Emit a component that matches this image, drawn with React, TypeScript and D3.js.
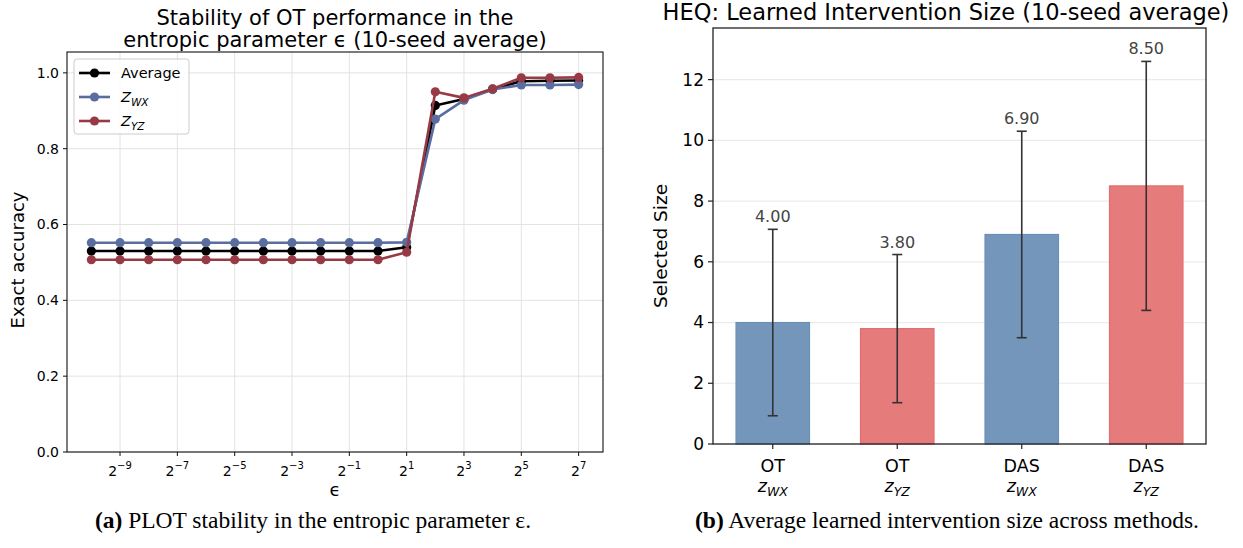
import React, { useEffect, useRef } from 'react';
import * as d3 from 'd3';

// --- left panel: accuracy vs entropic parameter (log2 of epsilon) ---
const epsExponents = [-10, -9, -8, -7, -6, -5, -4, -3, -2, -1, 0, 1, 2, 3, 4, 5, 6, 7];
const avgAccuracy = [0.530, 0.530, 0.530, 0.530, 0.530, 0.530, 0.530, 0.530, 0.530, 0.530, 0.530, 0.540, 0.914, 0.931, 0.957, 0.978, 0.979, 0.980];
const zwxAccuracy = [0.552, 0.552, 0.552, 0.552, 0.552, 0.552, 0.552, 0.552, 0.552, 0.552, 0.552, 0.553, 0.878, 0.928, 0.956, 0.968, 0.968, 0.969];
const zyzAccuracy = [0.507, 0.507, 0.507, 0.507, 0.507, 0.507, 0.507, 0.507, 0.507, 0.507, 0.507, 0.527, 0.950, 0.934, 0.958, 0.987, 0.987, 0.988];
const epsTickExponents = [-9, -7, -5, -3, -1, 1, 3, 5, 7];
const accTicks = [0, 0.2, 0.4, 0.6, 0.8, 1.0];

// --- right panel: learned intervention size ---
const methodNames = ['OT', 'OT', 'DAS', 'DAS'];
const reprNames = ['WX', 'YZ', 'WX', 'YZ'];
const meanSizes = [4.0, 3.8, 6.9, 8.5];
const stdSizes = [3.07, 2.44, 3.4, 4.1];
const sizeTicks = [0, 2, 4, 6, 8, 10, 12];

const FONT = 'DejaVu Sans';
const BLUE = '#5b6c9e';
const RED = '#983a45';
const BAR_BLUE = '#7496bb';
const BAR_RED = '#e57b7b';

const App: React.FC = () => {
	const ref = useRef<SVGSVGElement>(null);

	useEffect(() => {
		if (!ref.current) return;
		const svg = d3.select(ref.current);
		svg.selectAll('*').remove();

		svg.append('rect').attr('width', 1243).attr('height', 548).attr('fill', 'white');

		// ================= LEFT PANEL =================
		const L = { left: 67, right: 603, top: 52, bottom: 452 };
		const x = d3
			.scaleLog()
			.base(2)
			.domain([2 ** -10.85, 2 ** 7.85])
			.range([L.left, L.right]);
		const y = d3.scaleLinear().domain([0, 1.055]).range([L.bottom, L.top]);

		const left = svg.append('g').attr('font-family', FONT);

		// grid
		left
			.selectAll('.vgrid')
			.data(epsTickExponents)
			.enter()
			.append('line')
			.attr('x1', (d) => x(2 ** d))
			.attr('x2', (d) => x(2 ** d))
			.attr('y1', L.top)
			.attr('y2', L.bottom)
			.attr('stroke', '#e3e3e3')
			.attr('stroke-width', 1);
		left
			.selectAll('.hgrid')
			.data(accTicks)
			.enter()
			.append('line')
			.attr('x1', L.left)
			.attr('x2', L.right)
			.attr('y1', (d) => y(d))
			.attr('y2', (d) => y(d))
			.attr('stroke', '#e3e3e3')
			.attr('stroke-width', 1);

		// series
		const series = [
			{ name: 'Average', values: avgAccuracy, color: '#000000' },
			{ name: 'WX', values: zwxAccuracy, color: BLUE },
			{ name: 'YZ', values: zyzAccuracy, color: RED },
		];
		const line = d3
			.line<number>()
			.x((_, i) => x(2 ** epsExponents[i]))
			.y((d) => y(d));

		series.forEach((s) => {
			left
				.append('path')
				.attr('d', line(s.values) as string)
				.attr('fill', 'none')
				.attr('stroke', s.color)
				.attr('stroke-width', 2.6)
				.attr('stroke-linejoin', 'round');
			left
				.selectAll(null)
				.data(s.values)
				.enter()
				.append('circle')
				.attr('cx', (_, i) => x(2 ** epsExponents[i]))
				.attr('cy', (d) => y(d))
				.attr('r', 4.6)
				.attr('fill', s.color);
		});

		// frame
		left
			.append('rect')
			.attr('x', L.left)
			.attr('y', L.top)
			.attr('width', L.right - L.left)
			.attr('height', L.bottom - L.top)
			.attr('fill', 'none')
			.attr('stroke', '#111')
			.attr('stroke-width', 1.1);

		// y ticks
		accTicks.forEach((t) => {
			left
				.append('line')
				.attr('x1', L.left - 4)
				.attr('x2', L.left)
				.attr('y1', y(t))
				.attr('y2', y(t))
				.attr('stroke', '#111');
			left
				.append('text')
				.attr('x', L.left - 8)
				.attr('y', y(t))
				.attr('dy', '0.35em')
				.attr('text-anchor', 'end')
				.attr('font-size', 14)
				.text(t.toFixed(1));
		});

		// x ticks (2^k)
		epsTickExponents.forEach((k) => {
			const px = x(2 ** k);
			left
				.append('line')
				.attr('x1', px)
				.attr('x2', px)
				.attr('y1', L.bottom)
				.attr('y2', L.bottom + 4)
				.attr('stroke', '#111');
			const t = left
				.append('text')
				.attr('x', px)
				.attr('y', L.bottom + 24)
				.attr('text-anchor', 'middle')
				.attr('font-size', 14);
			t.append('tspan').text('2');
			t.append('tspan')
				.attr('font-size', 10)
				.attr('dy', -7)
				.text(k < 0 ? `\u2212${-k}` : `${k}`);
		});

		// axis labels
		left
			.append('text')
			.attr('x', (L.left + L.right) / 2)
			.attr('y', 496)
			.attr('text-anchor', 'middle')
			.attr('font-size', 18)
			.text('\u03f5');
		left
			.append('text')
			.attr('transform', `translate(24, ${(L.top + L.bottom) / 2 + 8}) rotate(-90)`)
			.attr('text-anchor', 'middle')
			.attr('font-size', 18)
			.text('Exact accuracy');

		// title
		left
			.append('text')
			.attr('x', (L.left + L.right) / 2)
			.attr('y', 25)
			.attr('text-anchor', 'middle')
			.attr('font-size', 21)
			.text('Stability of OT performance in the');
		left
			.append('text')
			.attr('x', (L.left + L.right) / 2)
			.attr('y', 47)
			.attr('text-anchor', 'middle')
			.attr('font-size', 21)
			.text('entropic parameter \u03f5 (10-seed average)');

		// legend
		const lg = left.append('g');
		lg.append('rect')
			.attr('x', 74)
			.attr('y', 59)
			.attr('width', 115)
			.attr('height', 75)
			.attr('rx', 3)
			.attr('fill', 'white')
			.attr('fill-opacity', 0.85)
			.attr('stroke', '#cccccc');
		series.forEach((s, i) => {
			const ry = 73 + i * 24;
			lg.append('line')
				.attr('x1', 79)
				.attr('x2', 110)
				.attr('y1', ry)
				.attr('y2', ry)
				.attr('stroke', s.color)
				.attr('stroke-width', 2.6);
			lg.append('circle').attr('cx', 94.5).attr('cy', ry).attr('r', 4.6).attr('fill', s.color);
			const t = lg
				.append('text')
				.attr('x', 121)
				.attr('y', ry + 5)
				.attr('font-size', 14.5);
			if (i === 0) {
				t.text(s.name);
			} else {
				t.append('tspan').attr('font-style', 'italic').text('Z');
				t.append('tspan')
					.attr('font-style', 'italic')
					.attr('font-size', 10.5)
					.attr('dy', 4)
					.text(s.name);
			}
		});

		// ================= RIGHT PANEL =================
		const R = { left: 713, right: 1206, top: 28, bottom: 444 };
		const xb = d3.scaleLinear().domain([-0.48, 3.48]).range([R.left, R.right]);
		const yb = d3.scaleLinear().domain([0, 13.7]).range([R.bottom, R.top]);
		const barW = xb(0.59) - xb(0);

		const right = svg.append('g').attr('font-family', FONT);

		right
			.selectAll('.grid')
			.data(sizeTicks)
			.enter()
			.append('line')
			.attr('x1', R.left)
			.attr('x2', R.right)
			.attr('y1', (d) => yb(d))
			.attr('y2', (d) => yb(d))
			.attr('stroke', '#ebebeb')
			.attr('stroke-width', 1.2);

		meanSizes.forEach((m, i) => {
			const cx = xb(i);
			const isWX = reprNames[i] === 'WX';
			right
				.append('rect')
				.attr('x', cx - barW / 2)
				.attr('y', yb(m))
				.attr('width', barW)
				.attr('height', yb(0) - yb(m))
				.attr('fill', isWX ? BAR_BLUE : BAR_RED)
				.attr('stroke', isWX ? '#6a8fb8' : '#e46c6c')
				.attr('stroke-width', 1.2);

			const hi = m + stdSizes[i];
			const lo = m - stdSizes[i];
			const eb = right.append('g').attr('stroke', '#333').attr('stroke-width', 1.6);
			eb.append('line').attr('x1', cx).attr('x2', cx).attr('y1', yb(hi)).attr('y2', yb(lo));
			eb.append('line').attr('x1', cx - 5).attr('x2', cx + 5).attr('y1', yb(hi)).attr('y2', yb(hi));
			eb.append('line').attr('x1', cx - 5).attr('x2', cx + 5).attr('y1', yb(lo)).attr('y2', yb(lo));

			right
				.append('text')
				.attr('x', cx)
				.attr('y', yb(hi) - 7)
				.attr('text-anchor', 'middle')
				.attr('font-size', 16)
				.attr('fill', '#444')
				.text(m.toFixed(2));

			// x tick + two-line label
			right
				.append('line')
				.attr('x1', cx)
				.attr('x2', cx)
				.attr('y1', R.bottom)
				.attr('y2', R.bottom + 5)
				.attr('stroke', '#222')
				.attr('stroke-width', 1.2);
			right
				.append('text')
				.attr('x', cx)
				.attr('y', R.bottom + 28)
				.attr('text-anchor', 'middle')
				.attr('font-size', 17.5)
				.text(methodNames[i]);
			const zt = right
				.append('text')
				.attr('x', cx)
				.attr('y', R.bottom + 48)
				.attr('text-anchor', 'middle')
				.attr('font-size', 17.5);
			zt.append('tspan').attr('font-style', 'italic').text('z');
			zt.append('tspan')
				.attr('font-style', 'italic')
				.attr('font-size', 12.5)
				.attr('dy', 4)
				.text(reprNames[i]);
		});

		// frame
		right
			.append('rect')
			.attr('x', R.left)
			.attr('y', R.top)
			.attr('width', R.right - R.left)
			.attr('height', R.bottom - R.top)
			.attr('fill', 'none')
			.attr('stroke', '#222')
			.attr('stroke-width', 1.3);

		sizeTicks.forEach((t) => {
			right
				.append('line')
				.attr('x1', R.left - 5)
				.attr('x2', R.left)
				.attr('y1', yb(t))
				.attr('y2', yb(t))
				.attr('stroke', '#222')
				.attr('stroke-width', 1.2);
			right
				.append('text')
				.attr('x', R.left - 9)
				.attr('y', yb(t))
				.attr('dy', '0.35em')
				.attr('text-anchor', 'end')
				.attr('font-size', 17)
				.text(t);
		});

		right
			.append('text')
			.attr('transform', `translate(667, ${(R.top + R.bottom) / 2 + 10}) rotate(-90)`)
			.attr('text-anchor', 'middle')
			.attr('font-size', 18.5)
			.text('Selected Size');

		right
			.append('text')
			.attr('x', 946)
			.attr('y', 20)
			.attr('text-anchor', 'middle')
			.attr('font-size', 22.5)
			.text('HEQ: Learned Intervention Size (10-seed average)');

		// ================= CAPTIONS =================
		const captions = [
			{ cx: 313, label: '(a)', text: ' PLOT stability in the entropic parameter \u03b5.' },
			{ cx: 947, label: '(b)', text: ' Average learned intervention size across methods.' },
		];
		captions.forEach((c) => {
			const t = svg
				.append('text')
				.attr('x', c.cx)
				.attr('y', 528)
				.attr('text-anchor', 'middle')
				.attr('font-family', 'Liberation Serif')
				.attr('font-size', 23.5);
			t.append('tspan').attr('font-weight', 'bold').text(c.label);
			t.append('tspan').text(c.text);
		});
	}, []);

	return (
		<svg
			ref={ref}
			width={1243}
			height={548}
			style={{ position: 'absolute', left: 0, top: 0, display: 'block' }}
		/>
	);
};

export default App;
